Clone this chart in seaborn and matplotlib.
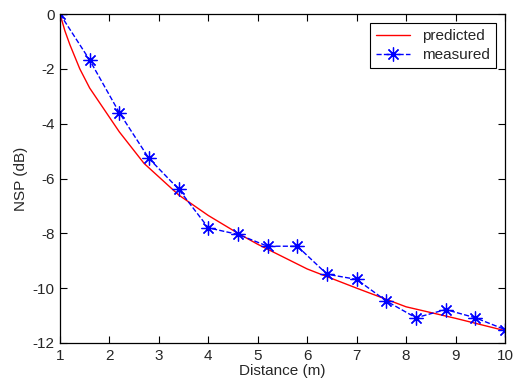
import matplotlib
matplotlib.use("Agg")
import matplotlib.pyplot as plt
import seaborn as sns
import pandas as pd

pred_x = [1.0, 1.1, 1.2, 1.4, 1.6, 1.9, 2.2, 2.7, 3.4, 4.0, 4.6, 5.0, 6.0, 7.0, 8.0, 9.0, 10.0]
pred_y = [0.0, -0.62, -1.12, -2.0, -2.7, -3.5, -4.3, -5.45, -6.6, -7.35, -8.0, -8.4, -9.3, -10.0, -10.68, -11.1, -11.55]

meas_x = [1.0, 1.6, 2.2, 2.8, 3.4, 4.0, 4.6, 5.2, 5.8, 6.4, 7.0, 7.6, 8.2, 8.8, 9.4, 10.0]
meas_y = [0.0, -1.68, -3.6, -5.27, -6.39, -7.8, -8.04, -8.47, -8.47, -9.49, -9.68, -10.47, -11.08, -10.78, -11.08, -11.51]

x_ticks = [1, 2, 3, 4, 5, 6, 7, 8, 9, 10]
y_ticks = [0, -2, -4, -6, -8, -10, -12]

sns.set_theme(style="white")
plt.rcParams['font.family'] = ['Liberation Sans', 'DejaVu Sans']

fig = plt.figure(figsize=(5.21, 3.85), dpi=100)
ax = fig.add_axes([60/521, 1-343/385, 445/521, 329/385])

dfp = pd.DataFrame({"x": pred_x, "y": pred_y})
dfm = pd.DataFrame({"x": meas_x, "y": meas_y})
sns.lineplot(data=dfp, x="x", y="y", ax=ax, color="red", linewidth=1.0, label="predicted")
sns.lineplot(data=dfm, x="x", y="y", ax=ax, color="blue", linewidth=1.0, linestyle="--",
             marker=(8, 2, 0), markersize=10, markeredgewidth=0.9,
             markeredgecolor="blue", markerfacecolor="blue",
             label="measured")
ax.plot(meas_x, meas_y, linestyle="none", marker="o", markersize=3, color="blue")

ax.set_xlim(1, 10)
ax.set_ylim(-12, 0)
ax.set_xticks(x_ticks)
ax.set_yticks(y_ticks)
ax.set_xticklabels([str(v) for v in x_ticks])
ax.set_yticklabels([str(v) for v in y_ticks])
ax.tick_params(direction="in", length=5, width=0.8, labelsize=11, color="black",
               top=True, right=True, bottom=True, left=True, pad=4)
for s in ax.spines.values():
    s.set_color("black")
    s.set_linewidth(0.9)
    s.set_visible(True)
ax.set_xlabel("Distance (m)", fontsize=11, labelpad=1)
ax.set_ylabel("NSP (dB)", fontsize=11, labelpad=3)

leg = ax.legend(loc="upper right", fontsize=11, frameon=True, fancybox=False,
                edgecolor="black", framealpha=1, borderaxespad=0.6,
                handlelength=2.2, labelspacing=0.3)
leg.get_frame().set_linewidth(0.8)

fig.savefig("out.png", dpi=100)
